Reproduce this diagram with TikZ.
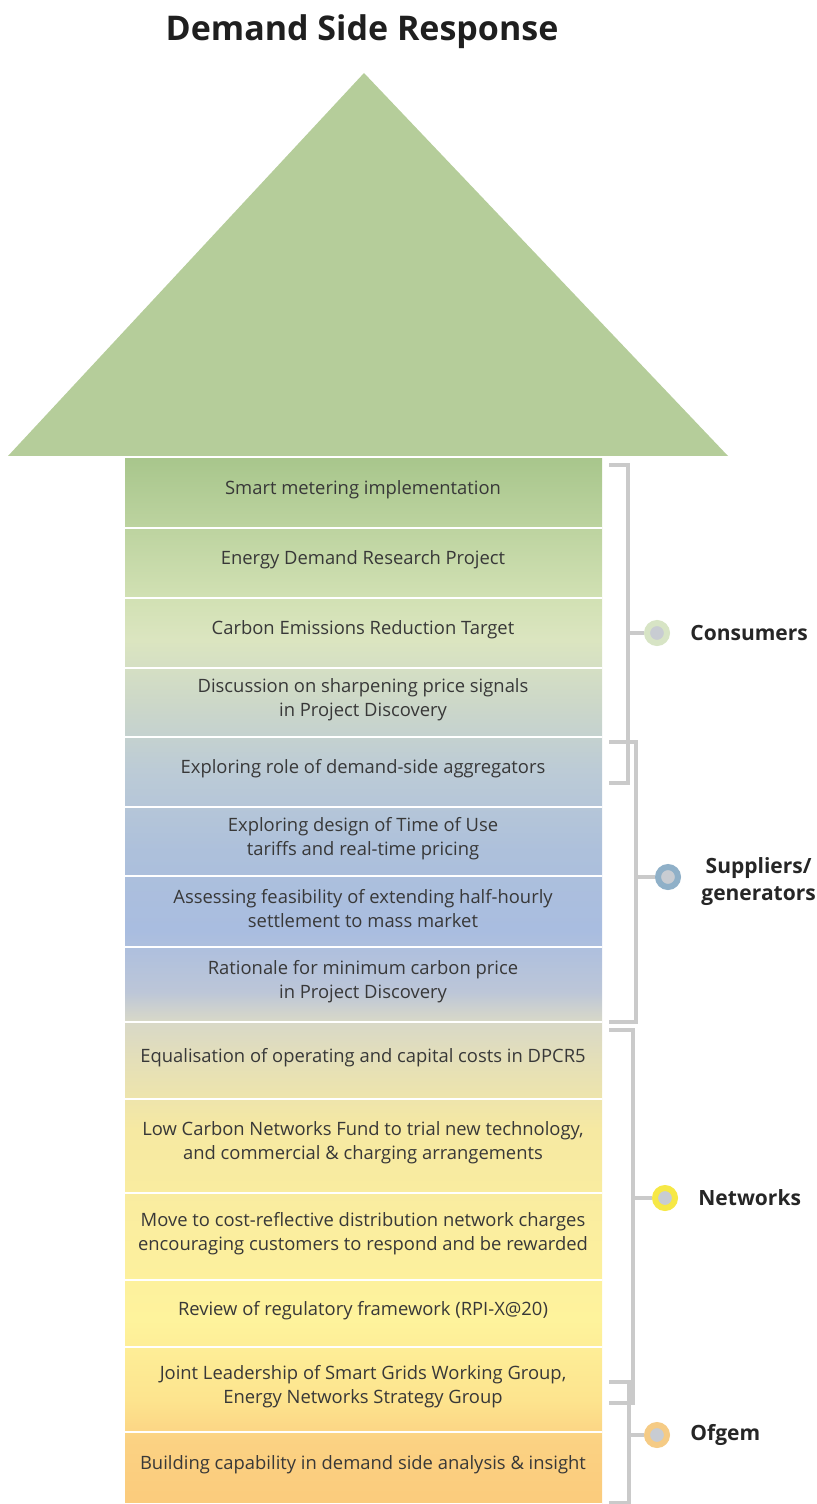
\documentclass[tikz,border=0pt]{standalone}
\usepackage{fontspec}
\setmainfont{Open Sans}
\usepackage{tikz}
\usetikzlibrary{calc,positioning}

\definecolor{headgreen}{HTML}{B5CD9A}
\definecolor{brackgray}{HTML}{CACACA}
\definecolor{dotgray}{HTML}{C8CCD2}
\definecolor{txtgray}{HTML}{383838}
% ring colours of the four groups
\definecolor{ringcons}{HTML}{D7E4C5}
\definecolor{ringsupp}{HTML}{8FB0C8}
\definecolor{ringnet}{HTML}{F6E846}
\definecolor{ringofg}{HTML}{F5CB85}
% shaft colours, top to bottom
\definecolor{sA}{HTML}{A8C68C}
\definecolor{sB}{HTML}{D2E1B4}
\definecolor{sC}{HTML}{DBE5C0}
\definecolor{sD}{HTML}{CDD8C8}
\definecolor{sE}{HTML}{BCCBD6}
\definecolor{sF}{HTML}{ADC0DB}
\definecolor{sG}{HTML}{A9BDE0}
\definecolor{sH}{HTML}{BCC6D8}
\definecolor{sI}{HTML}{D8D8C8}
\definecolor{sJ}{HTML}{E4DFB8}
\definecolor{sK}{HTML}{F6E9A2}
\definecolor{sL}{HTML}{FCEF9E}
\definecolor{sM}{HTML}{FEF39C}
\definecolor{sN}{HTML}{FDE48E}
\definecolor{sO}{HTML}{FBD283}
\definecolor{sP}{HTML}{FBCB7C}

\pgfdeclareverticalshading{shaftshade}{100bp}{
  color(0bp)=(sP); color(25bp)=(sP); color(28.1bp)=(sO); color(30bp)=(sN);
  color(33.8bp)=(sM); color(37.1bp)=(sL); color(42.9bp)=(sK); color(46.2bp)=(sJ);
  color(48.1bp)=(sI); color(49.5bp)=(sH); color(52.4bp)=(sG); color(56.2bp)=(sF);
  color(60.1bp)=(sE); color(63.4bp)=(sD); color(66.3bp)=(sC); color(68.2bp)=(sB);
  color(75bp)=(sA); color(100bp)=(sA)}

\begin{document}
\begin{tikzpicture}[
  x=0.5pt, y=-0.5pt,
  band/.style={align=center, text=txtgray, font=\fontsize{9.2}{12}\selectfont, inner sep=0pt},
  bracket/.style={draw=brackgray, line width=2pt},
  dot/.style={circle, draw=#1, fill=dotgray, line width=3pt, minimum size=10pt, inner sep=0pt},
  group/.style={right=10pt of #1, anchor=west, align=left, text=black!85,
    font=\fontsize{10.5}{13.5}\selectfont\bfseries, inner sep=0pt}
]
  \useasboundingbox (0,0) rectangle (817,1504);

  \node[font=\fontsize{17}{20}\selectfont\bfseries, text=black!88] (title) at (362,32) {Demand Side Response};

  % arrow head and shaft
  \fill[headgreen] (8,456) -- (364,73) -- (728,456) -- cycle;
  \shade[shading=shaftshade] (125,458) rectangle (602,1504);
  \draw[white, line width=1.2pt] (8,457) -- (728,457);

  % the measures, one band each
  \foreach \top/\bot/\txt [count=\i] in {
    457/528/{Smart metering implementation},
    528/598/{Energy Demand Research Project},
    598/668/{Carbon Emissions Reduction Target},
    668/737/{Discussion on sharpening price signals\\in Project Discovery},
    737/807/{Exploring role of demand-side aggregators},
    807/876/{Exploring design of Time of Use\\tariffs and real-time pricing},
    876/947/{Assessing feasibility of extending half-hourly\\settlement to mass market},
    947/1022/{Rationale for minimum carbon price\\in Project Discovery},
    1022/1099/{Equalisation of operating and capital costs in DPCR5},
    1099/1193/{Low Carbon Networks Fund to trial new technology,\\and commercial \& charging arrangements},
    1193/1280/{Move to cost-reflective distribution network charges\\encouraging customers to respond and be rewarded},
    1280/1347/{Review of regulatory framework (RPI-X@20)},
    1347/1432/{Joint Leadership of Smart Grids Working Group,\\Energy Networks Strategy Group},
    1432/1504/{Building capability in demand side analysis \& insight}}
  {
    \node[band] (m\i) at (363,{(\top+\bot)/2-3}) {\txt};
    \draw[white, line width=1pt] (125,\bot) -- (602,\bot);
  }

  % brackets
  \coordinate (c1) at (609,465);  \coordinate (c2) at (609,783);  \coordinate (ct) at (628,633);
  \coordinate (s1) at (609,742);  \coordinate (s2) at (609,1022); \coordinate (st) at (636,877);
  \coordinate (n1) at (609,1030); \coordinate (n2) at (609,1403); \coordinate (nt) at (633,1198);
  \coordinate (o1) at (609,1382); \coordinate (o2) at (609,1503); \coordinate (ot) at (629,1435);
  \draw[bracket] (c1) -| (ct) |- (c2);
  \draw[bracket] (s1) -| (st) |- (s2);
  \draw[bracket] (n1) -| (nt) |- (n2);
  \draw[bracket] (o1) -| (ot) |- (o2);

  \node[dot=ringcons] (dc) at (657,633) {};
  \node[dot=ringsupp] (ds) at (668,877) {};
  \node[dot=ringnet] (dn) at (665,1198) {};
  \node[dot=ringofg] (do) at (657,1435) {};
  \draw[bracket] (ct) -- (dc);
  \draw[bracket] (st) -- (ds);
  \draw[bracket] (nt) -- (dn);
  \draw[bracket] (ot) -- (do);

  \node[group=dc] (lc) {Consumers};
  \node[group=ds, align=center, yshift=-2.5pt] (ls) {Suppliers/\\generators};
  \node[group=dn] (ln) {Networks};
  \node[group=do] (lo) {Ofgem};
\end{tikzpicture}
\end{document}
